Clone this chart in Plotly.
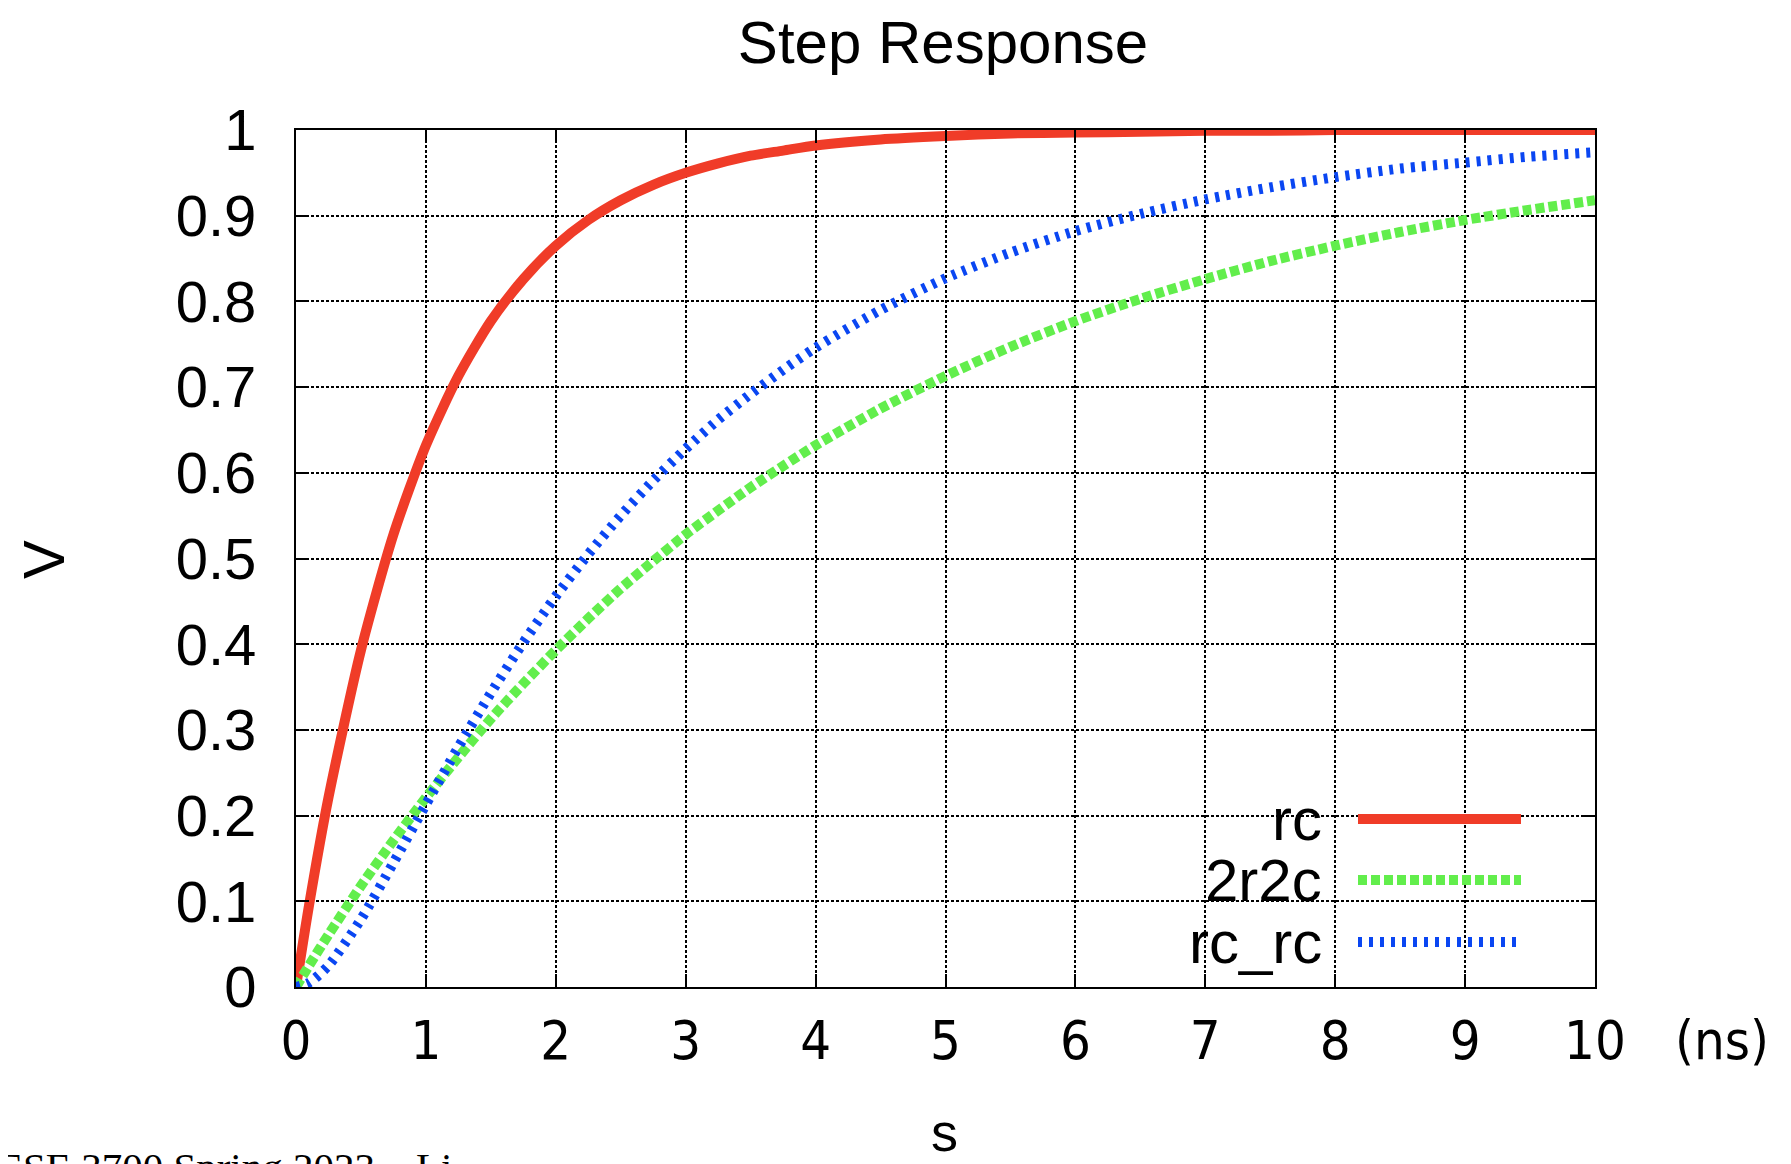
import plotly.graph_objects as go

# ---- data ----
t_ns = [0, 0.1, 0.25, 0.5, 0.75, 1, 1.25, 1.5, 1.75, 2, 2.25, 2.5, 2.75, 3,
        3.25, 3.5, 3.75, 4, 4.5, 5, 5.5, 6, 6.5, 7, 7.5, 8, 8.5, 9, 9.5, 10]
v_rc = [0, 0.095, 0.221, 0.393, 0.528, 0.632, 0.713, 0.777, 0.826, 0.865,
        0.895, 0.918, 0.936, 0.950, 0.961, 0.970, 0.976, 0.982, 0.989, 0.993,
        0.996, 0.997, 0.998, 0.999, 0.999, 1.0, 1.0, 1.0, 1.0, 1.0]
v_2r2c = [0, 0.025, 0.061, 0.118, 0.171, 0.221, 0.268, 0.313, 0.354, 0.393,
          0.430, 0.465, 0.497, 0.528, 0.556, 0.583, 0.608, 0.632, 0.675, 0.713,
          0.747, 0.777, 0.803, 0.826, 0.847, 0.865, 0.881, 0.895, 0.907, 0.918]
v_rc_rc = [0, 0.005, 0.025, 0.079, 0.145, 0.213, 0.280, 0.343, 0.402, 0.456,
           0.505, 0.550, 0.591, 0.628, 0.662, 0.692, 0.720, 0.746, 0.790, 0.827,
           0.857, 0.882, 0.902, 0.919, 0.933, 0.945, 0.955, 0.962, 0.969, 0.974]

series_names = ["rc", "2r2c", "rc_rc"]
x_ticks = [0, 1, 2, 3, 4, 5, 6, 7, 8, 9, 10]
y_ticks = [0, 0.1, 0.2, 0.3, 0.4, 0.5, 0.6, 0.7, 0.8, 0.9, 1]
y_tick_text = ["0", "0.1", "0.2", "0.3", "0.4", "0.5", "0.6", "0.7", "0.8", "0.9", "1"]

# ---- styles ----
colors = ["#F03C28", "#62EE4C", "#0A46F2"]
dashes = ["solid", "9px,4px", "4px,7px"]
LW = 10

# the page body adds an 8px margin; lay the figure out in page pixels
OFF = 8
W, H = 1791 - OFF, 1164 - OFF
L, R, T, B = 296 - OFF, 1595 - OFF, 130 - OFF, 987 - OFF


def px_x(p):
    return (p - OFF - L) / (R - L)


def px_y(p):
    return (B - (p - OFF)) / (B - T)


fig = go.Figure()
for name, ys, c, d in zip(series_names, [v_rc, v_2r2c, v_rc_rc], colors, dashes):
    fig.add_trace(go.Scatter(x=t_ns, y=ys, mode="lines", name=name,
                             line=dict(color=c, width=LW, dash=d,
                                       shape="spline", smoothing=0.7),
                             showlegend=False))

axis_common = dict(
    showline=True, linecolor="black", linewidth=2, mirror="ticks",
    ticks="inside", ticklen=13, tickwidth=2, tickcolor="black",
    showgrid=True, gridcolor="black", gridwidth=1.5, griddash="3px,2px",
    zeroline=False,
)

fig.update_xaxes(range=[0, 10], tickvals=x_ticks,
                 tickfont=dict(family="DejaVu Sans Condensed, DejaVu Sans",
                               size=54, color="black"),
                 ticklabelstandoff=5, **axis_common)
fig.update_yaxes(range=[0, 1], tickvals=y_ticks, ticktext=y_tick_text,
                 tickfont=dict(family="Liberation Sans, Arial", size=58,
                               color="black"),
                 ticklabelstandoff=26, **axis_common)

# legend (text on the left, sample line on the right, as in the reference)
shapes = [dict(type="rect", xref="paper", yref="paper",
               x0=px_x(1136), x1=px_x(1558), y0=px_y(972), y1=px_y(788),
               fillcolor="white", line=dict(width=0), layer="between")]
annotations = []
row_y = [819, 880, 942]
for name, c, d, ry in zip(series_names, colors, dashes, row_y):
    shapes.append(dict(type="line", xref="paper", yref="paper",
                       x0=px_x(1358), x1=px_x(1521), y0=px_y(ry), y1=px_y(ry),
                       line=dict(color=c, width=10, dash=d), layer="above"))
    annotations.append(dict(text=name, xref="paper", yref="paper",
                            x=px_x(1324), y=px_y(ry), xanchor="right",
                            yanchor="middle", showarrow=False,
                            font=dict(family="Liberation Sans, Arial", size=60,
                                      color="black")))

# axis titles and unit
annotations.append(dict(text="V", xref="paper", yref="paper",
                        x=px_x(43), y=px_y(560), xanchor="center",
                        yanchor="middle", textangle=-90, showarrow=False,
                        font=dict(family="Liberation Sans, Arial", size=58,
                                  color="black")))
annotations.append(dict(text="s", xref="paper", yref="paper",
                        x=px_x(944), y=px_y(1163), xanchor="center",
                        yanchor="bottom", showarrow=False, borderpad=0,
                        font=dict(family="Liberation Sans, Arial", size=54,
                                  color="black")))
annotations.append(dict(text="(ns)", xref="paper", yref="paper",
                        x=px_x(1722), y=px_y(1040), xanchor="center",
                        yanchor="middle", showarrow=False,
                        font=dict(family="DejaVu Sans Condensed, DejaVu Sans",
                                  size=54, color="black")))
# footer (cut off by the bottom edge in the reference)
annotations.append(dict(text="ESE 3700 Spring 2023 – Li", xref="paper",
                        yref="paper", x=px_x(-4), y=px_y(1142),
                        xanchor="left", yanchor="top", showarrow=False,
                        font=dict(family="Liberation Serif, Times New Roman",
                                  size=41, color="black")))

fig.update_layout(
    width=W, height=H,
    margin=dict(l=L, r=W - R, t=T, b=H - B, pad=0),
    paper_bgcolor="white", plot_bgcolor="white",
    title=dict(text="Step Response", x=px_x(943), xref="paper", xanchor="center",
               y=1 - (42 - OFF) / H, yref="container", yanchor="middle",
               font=dict(family="Liberation Sans, Arial", size=60,
                         color="black")),
    shapes=shapes, annotations=annotations, showlegend=False,
)

fig.write_html("out.html")
